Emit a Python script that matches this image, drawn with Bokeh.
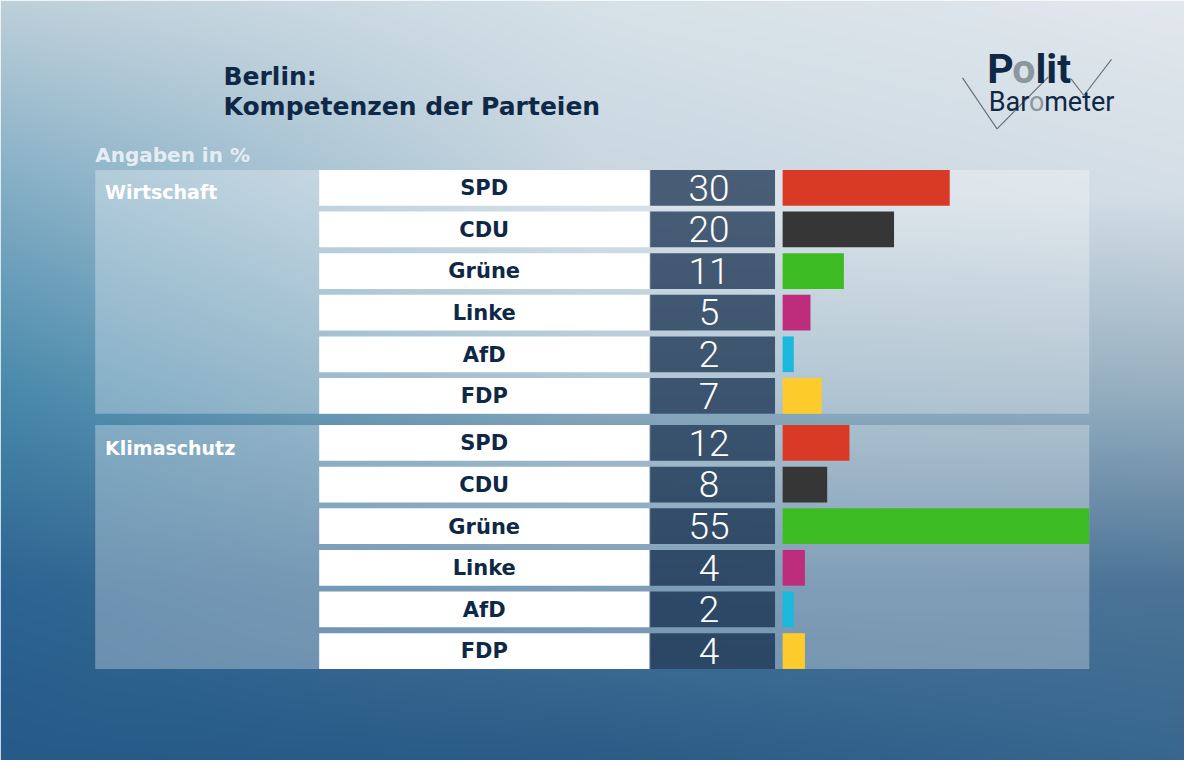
import numpy as np
from bokeh.plotting import figure
from bokeh.models import Range1d
from bokeh.core.properties import value
from bokeh.embed import file_html
from bokeh.resources import INLINE

# ---------------- data ----------------
title_lines = ["Berlin:", "Kompetenzen der Parteien"]
subtitle = "Angaben in %"
groups = ["Wirtschaft", "Klimaschutz"]
parties = ["SPD", "CDU", "Grüne", "Linke", "AfD", "FDP"]
wirtschaft = [30, 20, 11, 5, 2, 7]
klimaschutz = [12, 8, 55, 4, 2, 4]
party_colors = ["#d93a26", "#363636", "#3dbb22", "#be2c7c", "#1ab8dc", "#fdcb2b"]
group_values = [wirtschaft, klimaschutz]

# ---------------- layout (reference pixel space, y measured from top) ----------------
W, H = 1184, 760
RW, RH = 1200, 776
YS = RH / H  # data units per screen px (vertical)


def Y(ref_y):
    return RH - ref_y


def base(ref_baseline, size):
    # empirical correction of the alphabetic baseline in the svg backend
    return Y(ref_baseline - 0.39 * size * YS)


group_top = [173.0, 433.5]
pitch = 42.5
box_h = 36.5
panel_l, panel_r = 96, 1103.5
lab_l, lab_r = 323, 657.5
val_l, val_r = 658.5, 785
bar0 = 792.7
px_per_pct = 5.645

p = figure(width=W, height=H, x_range=Range1d(0, RW), y_range=Range1d(0, RH),
           toolbar_location=None, output_backend="svg", min_border=0)
p.axis.visible = False
p.grid.visible = False
p.outline_line_color = None
p.background_fill_color = None
p.border_fill_color = None
p.extra_x_ranges = {"pct": Range1d((0 - bar0) / px_per_pct, (RW - bar0) / px_per_pct)}

# ---------------- background gradient ----------------
grid_x = [0, 600, 1200]
grid_y = [0, 200, 400, 600, 776]
anchors = np.array([
    [(190, 208, 218), (128, 172, 196), (72, 137, 171), (45, 100, 145), (38, 90, 136)],
    [(214, 225, 232), (200, 214, 224), (140, 172, 192), (70, 116, 153), (42, 92, 135)],
    [(226, 232, 238), (212, 222, 230), (150, 175, 192), (75, 115, 150), (55, 103, 143)],
], dtype=float)
ys = (np.arange(H) + 0.5) * RH / H
xs = (np.arange(W) + 0.5) * RW / W
fx = np.interp(xs, grid_x, [0, 1, 2])
i0 = np.clip(np.floor(fx).astype(int), 0, 1)
f = fx - i0
img = np.empty((H, W), dtype=np.uint32)
view = img.view(dtype=np.uint8).reshape(H, W, 4)
for ch in range(3):
    cols = np.array([np.interp(ys, grid_y, anchors[j, :, ch]) for j in range(3)])  # (3, H)
    vals = cols[i0, :].T * (1 - f)[None, :] + cols[i0 + 1, :].T * f[None, :]
    view[:, :, ch] = np.clip(vals, 0, 255).astype(np.uint8)
view[:, :, 3] = 255
p.image_rgba(image=[img[::-1]], x=0, y=0, dw=RW, dh=RH)

# ---------------- panels, boxes, bars ----------------
for g, (gname, vals) in enumerate(zip(groups, group_values)):
    top = group_top[g]
    bottom = top + (len(parties) - 1) * pitch + box_h
    p.quad(left=panel_l, right=panel_r, top=Y(top), bottom=Y(bottom),
           fill_color="white", fill_alpha=0.3, line_color=None)
    row_c = [top + i * pitch + box_h / 2 for i in range(len(parties))]
    centers = [Y(c) for c in row_c]
    p.rect(x=(lab_l + lab_r) / 2, y=centers, width=lab_r - lab_l, height=box_h,
           fill_color="white", line_color=None)
    p.rect(x=(val_l + val_r) / 2, y=centers, width=val_r - val_l, height=box_h,
           fill_color="#0f2848", fill_alpha=0.72, line_color=None)
    p.hbar(y=centers, height=box_h, left=0, right=vals, fill_color=party_colors,
           line_color=None, x_range_name="pct")
    # party names
    p.text(x=(lab_l + lab_r) / 2, y=[base(c + 8.75, 21) for c in row_c], text=parties,
           text_align="center", text_baseline="alphabetic",
           text_font=value("DejaVu Sans"), text_font_style="bold",
           text_font_size="21px", text_color="#0f2846")
    # values
    p.text(x=718, y=[base(c + 14.5, 37) for c in row_c], text=[str(v) for v in vals],
           text_align="center", text_baseline="alphabetic",
           text_font=value("Roboto Light, Roboto"), text_font_size="37px",
           text_color="white")
    # group label
    p.text(x=[106], y=[base(top + 30.5, 19)], text=[gname], text_align="left",
           text_baseline="alphabetic", text_font=value("DejaVu Sans"),
           text_font_style="bold", text_font_size="19px", text_color="white")

# ---------------- titles ----------------
p.text(x=[226, 226], y=[base(87.7, 25), base(118.3, 25)], text=title_lines,
       text_align="left", text_baseline="alphabetic", text_font=value("DejaVu Sans"),
       text_font_style="bold", text_font_size="25px", text_color="#0f2846")
p.text(x=[96], y=[base(166, 20)], text=[subtitle], text_align="left",
       text_baseline="alphabetic", text_font=value("DejaVu Sans"),
       text_font_style="bold", text_font_size="20px", text_color="#e6edf2")

# ---------------- logo ----------------
navy = "#0f2846"
grey = "#8c969e"
p.line(x=[975, 1010, 1062], y=[Y(79), Y(131), Y(78)], line_color="#6a737b", line_width=1.2)
p.line(x=[1085, 1098, 1126], y=[Y(80), Y(97), Y(60)], line_color="#6a737b", line_width=1.2)
p.text(x=[1000, 1025.5, 1049], y=[base(86.7, 41)] * 3, text=["P", "o", "lit"],
       text_color=[navy, grey, navy], text_align="left", text_baseline="alphabetic",
       text_font=value("Roboto"), text_font_style="bold", text_font_size="41px")
p.text(x=[1001.5, 1042.3, 1057.8], y=[base(114, 27)] * 3, text=["Bar", "o", "meter"],
       text_color=[navy, grey, navy], text_align="left", text_baseline="alphabetic",
       text_font=value("Roboto"), text_font_size="27px")

open("out.html", "w").write(file_html(p, INLINE))
